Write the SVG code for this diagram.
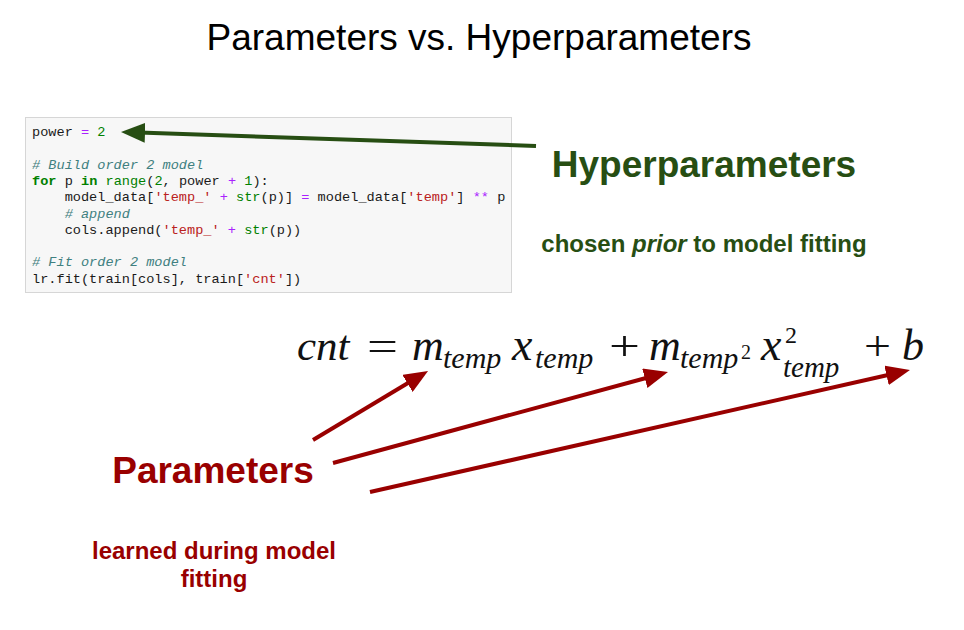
<svg xmlns="http://www.w3.org/2000/svg" width="964" height="630" viewBox="0 0 964 630">
  <style>
    .title { font-family: "Liberation Sans", Arial, sans-serif; font-size: 37px; fill: #000; }
    .head { font-family: "Liberation Sans", Arial, sans-serif; font-weight: bold; font-size: 37px; }
    .note { font-family: "Liberation Sans", Arial, sans-serif; font-weight: bold; font-size: 24px; }
    .green { fill: #274e13; }
    .red { fill: #990000; }
    .code { font-family: "Liberation Mono", "DejaVu Sans Mono", monospace; font-size: 13.6px; fill: #1a1a1a; white-space: pre; }
    .kw { fill: #008000; font-weight: bold; }
    .bi { fill: #008000; }
    .num { fill: #008000; }
    .op { fill: #aa22ff; }
    .str { fill: #ba2121; }
    .cm { fill: #408080; font-style: italic; }
    .eq { font-family: "Liberation Serif", "Times New Roman", serif; font-style: italic; fill: #111; }
    .eqr { font-family: "Liberation Serif", "Times New Roman", serif; fill: #111; }
    .arrow-g { stroke: #274e13; stroke-width: 4; fill: none; }
    .arrow-r { stroke: #990000; stroke-width: 4; fill: none; }
  </style>
  <defs>
    <marker id="head-green" markerUnits="userSpaceOnUse" markerWidth="24" markerHeight="20" viewBox="0 0 24 20" refX="6" refY="10" orient="auto">
      <path d="M0,0 L24,10 L0,20 z" fill="#274e13"/>
    </marker>
    <marker id="head-red" markerUnits="userSpaceOnUse" markerWidth="24" markerHeight="20" viewBox="0 0 24 20" refX="6" refY="10" orient="auto">
      <path d="M0,0 L24,10 L0,20 z" fill="#990000"/>
    </marker>
  </defs>

  <rect width="964" height="630" fill="#ffffff"/>

  <text class="title" x="479" y="50" text-anchor="middle">Parameters vs. Hyperparameters</text>

  <!-- notebook cell with the polynomial fitting code -->
  <g id="code-cell">
    <rect x="25.5" y="117.5" width="486" height="175" fill="#f7f7f7" stroke="#d6d6d6" stroke-width="1"/>
    <text class="code" x="32" y="136">power <tspan class="op">=</tspan> <tspan class="num">2</tspan></text>
    <text class="code" x="32" y="168.6"><tspan class="cm"># Build order 2 model</tspan></text>
    <text class="code" x="32" y="184.9"><tspan class="kw">for</tspan> p <tspan class="kw">in</tspan> <tspan class="bi">range</tspan>(<tspan class="num">2</tspan>, power <tspan class="op">+</tspan> <tspan class="num">1</tspan>):</text>
    <text class="code" x="32" y="201.2">    model_data[<tspan class="str">'temp_'</tspan> <tspan class="op">+</tspan> <tspan class="bi">str</tspan>(p)] <tspan class="op">=</tspan> model_data[<tspan class="str">'temp'</tspan>] <tspan class="op">**</tspan> p</text>
    <text class="code" x="32" y="217.5">    <tspan class="cm"># append</tspan></text>
    <text class="code" x="32" y="233.8">    cols.append(<tspan class="str">'temp_'</tspan> <tspan class="op">+</tspan> <tspan class="bi">str</tspan>(p))</text>
    <text class="code" x="32" y="266.4"><tspan class="cm"># Fit order 2 model</tspan></text>
    <text class="code" x="32" y="282.7">lr.fit(train[cols], train[<tspan class="str">'cnt'</tspan>])</text>
  </g>

  <g id="hyperparameters">
    <text class="head green" x="704" y="177" text-anchor="middle">Hyperparameters</text>
    <text class="note green" x="704" y="252" text-anchor="middle">chosen <tspan font-style="italic">prior</tspan> to model fitting</text>
  </g>

  <g id="parameters">
    <text class="head red" x="213" y="483" text-anchor="middle">Parameters</text>
    <text class="note red" x="214" y="559" text-anchor="middle">learned during model</text>
    <text class="note red" x="214" y="587" text-anchor="middle">fitting</text>
  </g>

  <!-- cnt = m_temp x_temp + m_temp^2 x_temp^2 + b -->
  <g id="equation">
    <text class="eq" x="297" y="360" font-size="43">cnt</text>
    <text class="eqr" x="367" y="360" font-size="43" textLength="31" lengthAdjust="spacingAndGlyphs">=</text>
    <text class="eq" x="412" y="360" font-size="44">m</text>
    <text class="eq" x="443" y="368" font-size="30">temp</text>
    <text class="eq" x="512" y="360" font-size="46">x</text>
    <text class="eq" x="535" y="368" font-size="30">temp</text>
    <text class="eqr" x="609" y="360" font-size="43" textLength="31" lengthAdjust="spacingAndGlyphs">+</text>
    <text class="eq" x="649" y="360" font-size="44">m</text>
    <text class="eq" x="680" y="368" font-size="30">temp</text>
    <text class="eqr" x="741" y="359" font-size="20">2</text>
    <text class="eq" x="761" y="360" font-size="46">x</text>
    <text class="eqr" x="785" y="343" font-size="24">2</text>
    <text class="eq" x="783" y="377" font-size="29">temp</text>
    <text class="eqr" x="864" y="360" font-size="43" textLength="27" lengthAdjust="spacingAndGlyphs">+</text>
    <text class="eq" x="902" y="360" font-size="44">b</text>
  </g>

  <g id="connectors">
    <path class="arrow-g" d="M536,146 L139,132.6" marker-end="url(#head-green)"/>
    <path class="arrow-r" d="M313,440 L412.6,380.3" marker-end="url(#head-red)"/>
    <path class="arrow-r" d="M333,463 L650.6,376.7" marker-end="url(#head-red)"/>
    <path class="arrow-r" d="M370,492 L892.4,374" marker-end="url(#head-red)"/>
  </g>
</svg>
